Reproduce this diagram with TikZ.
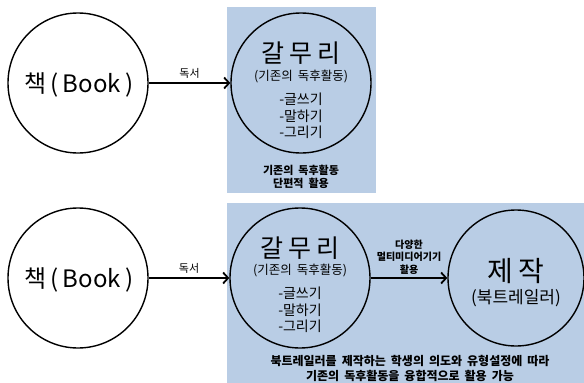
\documentclass[tikz,border=0pt]{standalone}
\usepackage{fontspec}
\setmainfont{Noto Sans CJK KR}
\usetikzlibrary{arrows.meta}
\definecolor{boxblue}{RGB}{185,205,229}
\tikzset{
  bubble/.style={circle,draw,line width=1.4pt,minimum size=140pt,inner sep=0pt},
  conn/.style={line width=1.8pt,-{Straight Barb[length=5pt,width=11pt]}},
  txt/.style={inner sep=0pt,align=center},
  lbl/.style={txt,font=\fontsize{11}{13}\selectfont\bfseries},
  bigbook/.style={txt,font=\fontsize{24}{28}\selectfont},
  galtitle/.style={txt,font=\fontsize{25}{28}\selectfont},
  galparen/.style={txt,font=\fontsize{12.5}{14}\selectfont},
  gallist/.style={txt,font=\fontsize{14}{16.5}\selectfont},
  edgelbl/.style={txt,font=\fontsize{11}{13}\selectfont},
}
\newcommand{\gap}{\hspace{5pt}}
\begin{document}
\begin{tikzpicture}[x=1pt,y=-1pt]
\useasboundingbox (0,0) rectangle (584,383);
% background panels
\fill[boxblue] (227,7) rectangle (376,193);
\fill[boxblue] (227,203) rectangle (584,383);

% ---------- top row ----------
\node[bubble] (book1) at (78,83) {};
\node[bigbook] (book1t) at (79,85) {책\,(\,Book\,)};
\node[bubble] (gal1) at (301,83) {};
\node[galtitle] (gal1t) at (301,53) {갈\gap 무\gap 리};
\node[galparen] (gal1p) at (301,77) {(기존의\gap 독후활동)};
\node[gallist] (gal1l) at (301,116) {-글쓰기\\-말하기\\-그리기};
\node[lbl] (note1) at (301,176.5) {기존의\gap 독후활동\\단편적\gap 활용};
\draw[conn] (book1) -- (gal1) node[midway,above=4pt,edgelbl] (read1) {독서};

% ---------- bottom row ----------
\node[bubble] (book2) at (78,278) {};
\node[bigbook] (book2t) at (79,280) {책\,(\,Book\,)};
\node[bubble] (gal2) at (300,278) {};
\node[galtitle] (gal2t) at (300,248) {갈\gap 무\gap 리};
\node[galparen] (gal2p) at (300,271) {(기존의\gap 독후활동)};
\node[gallist] (gal2l) at (300,310) {-글쓰기\\-말하기\\-그리기};
\node[bubble,minimum size=136pt] (make) at (516,278) {};
\node[txt,font=\fontsize{28}{32}\selectfont] (maket) at (516,271) {제\hspace{5pt}작};
\node[txt,font=\fontsize{17}{20}\selectfont] (makep) at (516,298) {(북트레일러)};
\draw[conn] (book2) -- (gal2) node[midway,above=4pt,edgelbl] (read2) {독서};
\draw[conn] (gal2) -- (make) node[midway,above=3pt,txt,font=\fontsize{10}{12.5}\selectfont\bfseries] (media) {다양한\\멀티미디어기기\\활용};
\node[txt,font=\fontsize{12}{15}\selectfont\bfseries] (note2) at (410,368.5) {북트레일러를\gap 제작하는\gap 학생의\gap 의도와\gap 유형설정에\gap 따라\\기존의\gap 독후활동을\gap 융합적으로\gap 활용\gap 가능};
\end{tikzpicture}
\end{document}
